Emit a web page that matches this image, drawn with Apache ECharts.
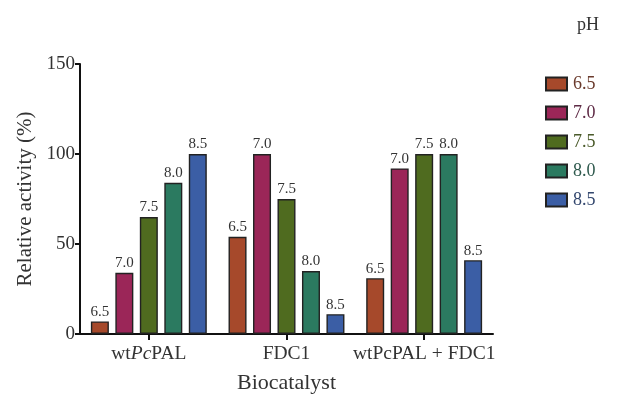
<!DOCTYPE html>
<html>
<head>
<meta charset="utf-8">
<script src="https://cdn.jsdelivr.net/npm/echarts@6/dist/echarts.min.js"></script>
<style>
  html, body { margin: 0; padding: 0; background: #fff; }
  #chart { width: 629px; height: 403px; }
</style>
</head>
<body>
<div id="chart"></div>
<script>
// Relative activity of each biocatalyst at different pH values
const categories = ['wtPcPAL', 'FDC1', 'wtPcPAL + FDC1'];
const phLevels = ['6.5', '7.0', '7.5', '8.0', '8.5'];
const ph65 = [7, 54, 31];
const ph70 = [34, 100, 92];
const ph75 = [65, 75, 100];
const ph80 = [84, 35, 100];
const ph85 = [100, 11, 41];
const yTicks = [0, 50, 100, 150];

const seriesValues = [ph65, ph70, ph75, ph80, ph85];
const fillColors = ['#a6492b', '#9b2658', '#4f6b1f', '#2b7a60', '#3b5ea5'];
const textColors = ['#6a3a2c', '#5e2a45', '#4a5a2a', '#2f5a4e', '#33476e'];
const serif = '"Liberation Serif", "DejaVu Serif", serif';

const chart = echarts.init(document.getElementById('chart'));

const series = phLevels.map((ph, i) => ({
  name: ph,
  type: 'bar',
  data: seriesValues[i],
  barWidth: 18,
  barGap: '36%',
  itemStyle: { color: fillColors[i], borderColor: '#222', borderWidth: 1.4 },
  label: {
    show: true,
    position: 'top',
    distance: 2,
    formatter: ph,
    fontFamily: serif,
    fontSize: 15,
    color: '#333'
  }
}));

chart.setOption({
  animation: false,
  backgroundColor: '#fff',
  title: {
    text: 'pH',
    left: 572,
    top: 11,
    textStyle: { fontFamily: serif, fontSize: 18, fontWeight: 'normal', color: '#333' }
  },
  legend: {
    orient: 'vertical',
    left: 545,
    top: 75,
    padding: 0,
    icon: 'rect',
    itemWidth: 21,
    itemHeight: 13,
    itemGap: 11,
    data: phLevels.map((ph, i) => ({ name: ph, textStyle: { color: textColors[i] } })),
    textStyle: { fontFamily: serif, fontSize: 18, padding: [0, 0, 0, 1] }
  },
  grid: { left: 80, right: 136, top: 64, bottom: 69 },
  xAxis: {
    type: 'category',
    data: categories,
    name: 'Biocatalyst',
    nameLocation: 'middle',
    nameGap: 38,
    nameTextStyle: { fontFamily: serif, fontSize: 22, color: '#333' },
    axisLine: { show: true, lineStyle: { color: '#111', width: 2 } },
    axisTick: { show: true, interval: 0, alignWithLabel: true, length: 6, lineStyle: { color: '#111', width: 2 } },
    axisLabel: {
      interval: 0,
      margin: 10,
      fontFamily: serif,
      fontSize: 19.5,
      color: '#333',
      formatter: (v) => v === 'wtPcPAL' ? '{n|wt}{i|Pc}{n|PAL}' : '{n|' + v + '}',
      rich: {
        n: { fontFamily: serif, fontSize: 19.5, color: '#333' },
        i: { fontFamily: serif, fontSize: 19.5, color: '#333', fontStyle: 'italic' }
      }
    }
  },
  yAxis: {
    type: 'value',
    min: yTicks[0],
    max: yTicks[yTicks.length - 1],
    interval: 50,
    name: 'Relative activity (%)',
    nameLocation: 'middle',
    nameGap: 37,
    nameTextStyle: { fontFamily: serif, fontSize: 21, color: '#333' },
    axisLine: { show: true, lineStyle: { color: '#111', width: 2 } },
    axisTick: { show: true, inside: false, length: 5, lineStyle: { color: '#111', width: 2 } },
    axisLabel: { margin: 5, fontFamily: serif, fontSize: 19, color: '#333' },
    splitLine: { show: false }
  },
  series: series
});
</script>
</body>
</html>
